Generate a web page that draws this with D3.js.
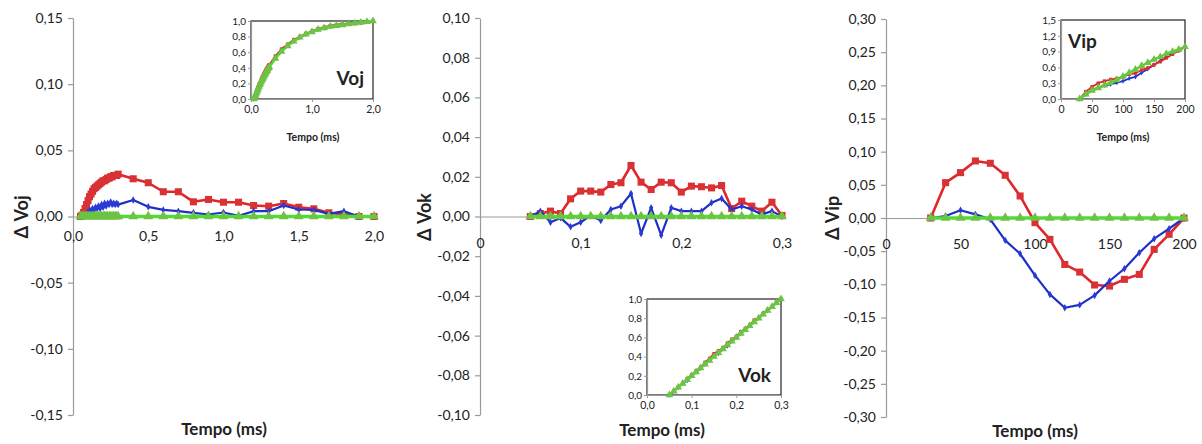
<!DOCTYPE html>
<html><head><meta charset="utf-8">
<script src="https://cdn.jsdelivr.net/npm/d3@7"></script>
<style>
body{margin:0;background:#fff}
svg{display:block}
text{font-family:Lato,"Open Sans",sans-serif;fill:#222}
</style>
</head><body>
<svg id="c" width="1202" height="444"></svg>
<script>
// ---------------- DATA ----------------
// Panel 1 : Voj
const vojTime = [0.05,0.06,0.07,0.08,0.09,0.10,0.11,0.12,0.13,0.14,0.15,0.16,0.17,0.18,0.19,0.20,0.21,0.22,0.23,0.24,0.25,0.26,0.27,0.28,0.29,0.30,0.4,0.5,0.6,0.7,0.8,0.9,1.0,1.1,1.2,1.3,1.4,1.5,1.6,1.7,1.8,1.9,2.0];
const dVojRed = [0,0.001,0.003,0.006,0.009,0.012,0.015,0.017,0.019,0.021,0.022,0.023,0.024,0.025,0.026,0.027,0.027,0.028,0.029,0.029,0.030,0.030,0.031,0.031,0.031,0.032,0.0285,0.0255,0.0187,0.0187,0.0111,0.0129,0.0108,0.0108,0.0083,0.0078,0.0098,0.007,0.0058,0.0028,0.0015,0,0];
const dVojBlue = [0,0,0,0.001,0.002,0.003,0.005,0.004,0.006,0.005,0.007,0.006,0.008,0.006,0.009,0.007,0.010,0.008,0.010,0.009,0.011,0.009,0.010,0.009,0.010,0.009,0.0125,0.0073,0.005,0.004,0.0028,0.0015,0.003,0.0005,0.004,0.004,0.0083,0.0053,0.005,0.002,0.004,0,0];
const dVojGreen = [0,0,0,0,0,0,0,0,0,0,0,0,0,0,0,0,0,0,0,0,0,0,0,0,0,0,0,0,0,0,0,0,0,0,0,0,0,0,0,0,0,0,0];
const vojRed = [0,0.02,0.04,0.07,0.09,0.11,0.14,0.16,0.18,0.20,0.21,0.23,0.25,0.27,0.29,0.30,0.32,0.33,0.35,0.36,0.38,0.39,0.40,0.42,0.43,0.44,0.55,0.64,0.70,0.76,0.80,0.84,0.87,0.90,0.92,0.94,0.95,0.96,0.97,0.97,0.98,0.99,1.00];
const vojBlue = [0,0.02,0.04,0.06,0.08,0.10,0.13,0.14,0.17,0.19,0.20,0.22,0.24,0.25,0.27,0.28,0.30,0.31,0.33,0.34,0.36,0.37,0.38,0.40,0.41,0.42,0.53,0.62,0.69,0.74,0.79,0.83,0.86,0.89,0.91,0.93,0.95,0.96,0.97,0.97,0.98,0.99,1.00];
const vojGreen = [0,0.02,0.04,0.06,0.08,0.10,0.12,0.14,0.16,0.18,0.19,0.21,0.23,0.24,0.26,0.27,0.29,0.30,0.32,0.33,0.35,0.36,0.37,0.39,0.40,0.41,0.52,0.61,0.68,0.74,0.79,0.83,0.86,0.89,0.91,0.93,0.94,0.95,0.96,0.97,0.98,0.99,1.00];
const vojYTicks = [-0.15,-0.10,-0.05,0,0.05,0.10,0.15];
const vojYLabels = ["-0,15","-0,10","-0,05","0,00","0,05","0,10","0,15"];
const vojXTicks = [0,0.5,1.0,1.5,2.0];
const vojXLabels = ["0,0","0,5","1,0","1,5","2,0"];
const vojInsetYTicks = [0,0.2,0.4,0.6,0.8,1.0];
const vojInsetYLabels = ["0,0","0,2","0,4","0,6","0,8","1,0"];
const vojInsetXTicks = [0,1,2];
const vojInsetXLabels = ["0,0","1,0","2,0"];

// Panel 2 : Vok
const vokTime = [0.05,0.06,0.07,0.08,0.09,0.10,0.11,0.12,0.13,0.14,0.15,0.16,0.17,0.18,0.19,0.20,0.21,0.22,0.23,0.24,0.25,0.26,0.27,0.28,0.29,0.30];
const dVokRed = [0,0.0015,0.0027,0.0015,0.0089,0.0128,0.0128,0.0123,0.0161,0.017,0.0257,0.0173,0.0136,0.0173,0.017,0.0123,0.0153,0.015,0.0144,0.0156,0.004,0.0077,0.0052,0.0027,0.0072,0.0005];
const dVokBlue = [0,0.0027,-0.0029,-0.0007,-0.0052,-0.0029,0.0005,-0.002,0.0035,0.0052,0.0116,-0.0086,0.0044,-0.0094,0.0044,0.0027,0.0027,0.0027,0.0069,0.0091,0.0035,0.0052,0.0035,0.001,0.0027,0];
const dVokGreen = [0,0,0,0,0,0,0,0,0,0,0,0,0,0,0,0,0,0,0,0,0,0,0,0,0,0];
const vokRed = [0,0.04,0.08,0.12,0.17,0.21,0.25,0.29,0.34,0.38,0.43,0.46,0.49,0.54,0.58,0.61,0.66,0.69,0.73,0.78,0.80,0.85,0.89,0.92,0.97,1.00];
const vokBlue = [0,0.04,0.08,0.12,0.15,0.20,0.24,0.28,0.32,0.37,0.41,0.43,0.48,0.51,0.56,0.60,0.64,0.68,0.73,0.77,0.80,0.85,0.88,0.92,0.96,1.00];
const vokGreen = [0,0.04,0.08,0.12,0.16,0.20,0.24,0.28,0.32,0.36,0.40,0.44,0.48,0.52,0.56,0.60,0.64,0.68,0.72,0.76,0.80,0.84,0.88,0.92,0.96,1.00];
const vokYTicks = [-0.10,-0.08,-0.06,-0.04,-0.02,0,0.02,0.04,0.06,0.08,0.10];
const vokYLabels = ["-0,10","-0,08","-0,06","-0,04","-0,02","0,00","0,02","0,04","0,06","0,08","0,10"];
const vokXTicks = [0,0.1,0.2,0.3];
const vokXLabels = ["0","0,1","0,2","0,3"];
const vokInsetYTicks = [0,0.2,0.4,0.6,0.8,1.0];
const vokInsetYLabels = ["0,0","0,2","0,4","0,6","0,8","1,0"];
const vokInsetXTicks = [0,0.1,0.2,0.3];
const vokInsetXLabels = ["0,0","0,1","0,2","0,3"];

// Panel 3 : Vip
const vipTime = [30,40,50,60,70,80,90,100,110,120,130,140,150,160,170,180,190,200];
const dVipRed = [0,0.0533,0.0684,0.086,0.0825,0.0644,0.0332,-0.007,-0.0322,-0.07,-0.0815,-0.101,-0.1026,-0.0925,-0.085,-0.0473,-0.0246,0];
const dVipBlue = [0,0.003,0.0116,0.0055,-0.002,-0.0337,-0.0539,-0.0865,-0.1152,-0.1353,-0.131,-0.1167,-0.095,-0.0765,-0.0523,-0.0312,-0.016,0];
const dVipGreen = [0,0,0,0,0,0,0,0,0,0,0,0,0,0,0,0,0,0];
const vipRed = [0,0.14,0.23,0.30,0.34,0.37,0.39,0.42,0.47,0.49,0.55,0.59,0.65,0.71,0.78,0.85,0.92,0.99];
const vipBlue = [0,0.09,0.17,0.22,0.26,0.28,0.31,0.34,0.39,0.42,0.50,0.57,0.65,0.72,0.81,0.87,0.92,0.99];
const vipGreen = [0,0.09,0.16,0.21,0.26,0.31,0.36,0.43,0.50,0.56,0.63,0.69,0.75,0.80,0.86,0.90,0.94,0.99];
const vipYTicks = [-0.30,-0.25,-0.20,-0.15,-0.10,-0.05,0,0.05,0.10,0.15,0.20,0.25,0.30];
const vipYLabels = ["-0,30","-0,25","-0,20","-0,15","-0,10","-0,05","0,00","0,05","0,10","0,15","0,20","0,25","0,30"];
const vipXTicks = [0,50,100,150,200];
const vipXLabels = ["0","50","100","150","200"];
const vipInsetYTicks = [0,0.3,0.6,0.9,1.2,1.5];
const vipInsetYLabels = ["0,0","0,3","0,6","0,9","1,2","1,5"];
const vipInsetXTicks = [0,50,100,150,200];
const vipInsetXLabels = ["0","50","100","150","200"];

// ---------------- STYLE ----------------
const RED = "#e0262a", RED_M = "#d93234";
const BLUE = "#1e2fc8", BLUE_M = "#2a3ad6";
const GREEN = "#4fdc34", GREEN_M = "#6ec244";
const AXIS = "#9a9a9a";

const svg = d3.select("#c");

function drawSeries(g, x, y, xs, ys, color, mcolor, marker, lw, msize) {
  const pts = xs.map((t, i) => [t, ys[i]]);
  g.append("path").datum(pts)
    .attr("fill", "none").attr("stroke", color).attr("stroke-width", lw)
    .attr("stroke-linejoin", "round")
    .attr("d", d3.line().x(d => x(d[0])).y(d => y(d[1])));
  const sym = marker === "square" ? d3.symbolSquare : marker === "triangle" ? d3.symbolTriangle : d3.symbolDiamond;
  g.selectAll(null).data(pts).enter().append("path")
    .attr("transform", d => `translate(${x(d[0])},${y(d[1])})`)
    .attr("d", d3.symbol().type(sym).size(msize))
    .attr("fill", mcolor);
}

function drawMain(o) {
  const g = svg.append("g");
  const x = d3.scaleLinear().domain(o.xDomain).range([o.left, o.right]);
  const y = d3.scaleLinear().domain(o.yDomain).range([o.bottom, o.top]);
  const ya = g.append("g").attr("transform", `translate(${o.left},0)`)
    .call(d3.axisLeft(y).tickValues(o.yTicks).tickFormat((d, i) => o.yLabels[i]).tickSize(5).tickSizeOuter(0).tickPadding(5));
  ya.select(".domain").attr("stroke", AXIS).attr("stroke-width", 1.2);
  ya.selectAll(".tick line").attr("stroke", AXIS).attr("stroke-width", 1.2);
  ya.selectAll("text").attr("font-size", 14).attr("fill", "#1a1a1a").style("font-family", "Lato,sans-serif");
  const xa = g.append("g").attr("transform", `translate(0,${y(0)})`)
    .call(d3.axisBottom(x).tickValues(o.xTicks).tickFormat((d, i) => o.xLabels[i]).tickSize(0).tickSizeOuter(0));
  xa.select(".domain").attr("stroke", AXIS).attr("stroke-width", 1.2);
  xa.selectAll("text").attr("font-size", 14).attr("fill", "#1a1a1a").attr("y", o.xLabelDy).attr("dy", "0.35em").style("font-family", "Lato,sans-serif");
  drawSeries(g, x, y, o.xs, o.red, RED, RED_M, "square", 2.6, 50);
  drawSeries(g, x, y, o.xs, o.blue, BLUE, BLUE_M, "diamond", 2.2, 16);
  drawSeries(g, x, y, o.xs, o.green, GREEN, GREEN_M, "triangle", 3.6, 42);
  g.append("text").attr("x", o.xTitle[0]).attr("y", o.xTitle[1]).attr("text-anchor", "middle")
    .attr("dy", "0.35em").attr("font-size", 17).attr("font-weight", 700).text("Tempo (ms)");
  g.append("text").attr("transform", `translate(${o.yTitle[0]},${o.yTitle[1]}) rotate(-90)`)
    .attr("text-anchor", "middle").attr("dy", "0.35em").attr("font-size", 18).attr("font-weight", 700).text(o.yTitleText);
}

function drawInset(o) {
  const g = svg.append("g");
  const x = d3.scaleLinear().domain(o.xDomain).range([o.left, o.right]);
  const y = d3.scaleLinear().domain(o.yDomain).range([o.bottom, o.top]);
  g.append("rect").attr("x", o.left).attr("y", o.top).attr("width", o.right - o.left).attr("height", o.bottom - o.top)
    .attr("fill", "#fff").attr("stroke", "#222").attr("stroke-width", 1.2);
  const ya = g.append("g").attr("transform", `translate(${o.left},0)`)
    .call(d3.axisLeft(y).tickValues(o.yTicks).tickFormat((d, i) => o.yLabels[i]).tickSize(3).tickSizeOuter(0).tickPadding(2));
  ya.select(".domain").attr("stroke", AXIS).attr("stroke-width", 1.2);
  ya.selectAll(".tick line").attr("stroke", AXIS);
  ya.selectAll("text").attr("font-size", 10).attr("fill", "#1a1a1a").style("font-family", "Lato,sans-serif");
  const xa = g.append("g").attr("transform", `translate(0,${o.bottom})`)
    .call(d3.axisBottom(x).tickValues(o.xTicks).tickFormat((d, i) => o.xLabels[i]).tickSize(3).tickSizeOuter(0).tickPadding(4));
  xa.select(".domain").attr("stroke", AXIS).attr("stroke-width", 1.2);
  xa.selectAll(".tick line").attr("stroke", AXIS);
  xa.selectAll("text").attr("font-size", 10.5).attr("fill", "#1a1a1a").style("font-family", "Lato,sans-serif");
  drawSeries(g, x, y, o.xs, o.blue, BLUE, BLUE_M, "diamond", 1.8, 8);
  drawSeries(g, x, y, o.xs, o.red, RED, RED_M, "square", 1.8, 12);
  drawSeries(g, x, y, o.xs, o.green, GREEN, GREEN_M, "triangle", 2.6, 26);
  if (o.xTitle) {
    g.append("text").attr("x", o.xTitle[0]).attr("y", o.xTitle[1]).attr("text-anchor", "middle").attr("dy", "0.35em")
      .attr("font-size", 10.5).attr("font-weight", 700).text("Tempo (ms)");
  }
  g.append("text").attr("x", o.name[0]).attr("y", o.name[1]).attr("text-anchor", o.nameAnchor).attr("dy", "0.35em")
    .attr("font-size", 19).attr("font-weight", 700).text(o.nameText);
}

// Panel 1
drawMain({left: 73, right: 374, top: 18, bottom: 415, xDomain: [0, 2], yDomain: [-0.15, 0.15],
  yTicks: vojYTicks, yLabels: vojYLabels, xTicks: vojXTicks, xLabels: vojXLabels, xLabelDy: 20,
  xs: vojTime, red: dVojRed, blue: dVojBlue, green: dVojGreen,
  xTitle: [224, 429], yTitle: [22, 217], yTitleText: "Δ Voj"});
drawInset({left: 251, right: 373, top: 21, bottom: 99, xDomain: [0, 2], yDomain: [0, 1],
  yTicks: vojInsetYTicks, yLabels: vojInsetYLabels, xTicks: vojInsetXTicks, xLabels: vojInsetXLabels,
  xs: vojTime, red: vojRed, blue: vojBlue, green: vojGreen,
  xTitle: [313, 137], name: [364, 78], nameAnchor: "end", nameText: "Voj"});

// Panel 2
drawMain({left: 480, right: 782, top: 18, bottom: 415, xDomain: [0, 0.3], yDomain: [-0.10, 0.10],
  yTicks: vokYTicks, yLabels: vokYLabels, xTicks: vokXTicks, xLabels: vokXLabels, xLabelDy: 27,
  xs: vokTime, red: dVokRed, blue: dVokBlue, green: dVokGreen,
  xTitle: [662, 430], yTitle: [425, 217], yTitleText: "Δ Vok"});
drawInset({left: 647, right: 781, top: 299, bottom: 395, xDomain: [0, 0.3], yDomain: [0, 1],
  yTicks: vokInsetYTicks, yLabels: vokInsetYLabels, xTicks: vokInsetXTicks, xLabels: vokInsetXLabels,
  xs: vokTime, red: vokRed, blue: vokBlue, green: vokGreen,
  xTitle: null, name: [771, 375], nameAnchor: "end", nameText: "Vok"});

// Panel 3
drawMain({left: 886, right: 1184, top: 19, bottom: 417, xDomain: [0, 200], yDomain: [-0.30, 0.30],
  yTicks: vipYTicks, yLabels: vipYLabels, xTicks: vipXTicks, xLabels: vipXLabels, xLabelDy: 26,
  xs: vipTime, red: dVipRed, blue: dVipBlue, green: dVipGreen,
  xTitle: [1035, 431], yTitle: [833, 218], yTitleText: "Δ Vip"});
drawInset({left: 1061, right: 1185, top: 20, bottom: 99, xDomain: [0, 200], yDomain: [0, 1.5],
  yTicks: vipInsetYTicks, yLabels: vipInsetYLabels, xTicks: vipInsetXTicks, xLabels: vipInsetXLabels,
  xs: vipTime, red: vipRed, blue: vipBlue, green: vipGreen,
  xTitle: [1123, 137], name: [1068, 41], nameAnchor: "start", nameText: "Vip"});
</script>
</body></html>
